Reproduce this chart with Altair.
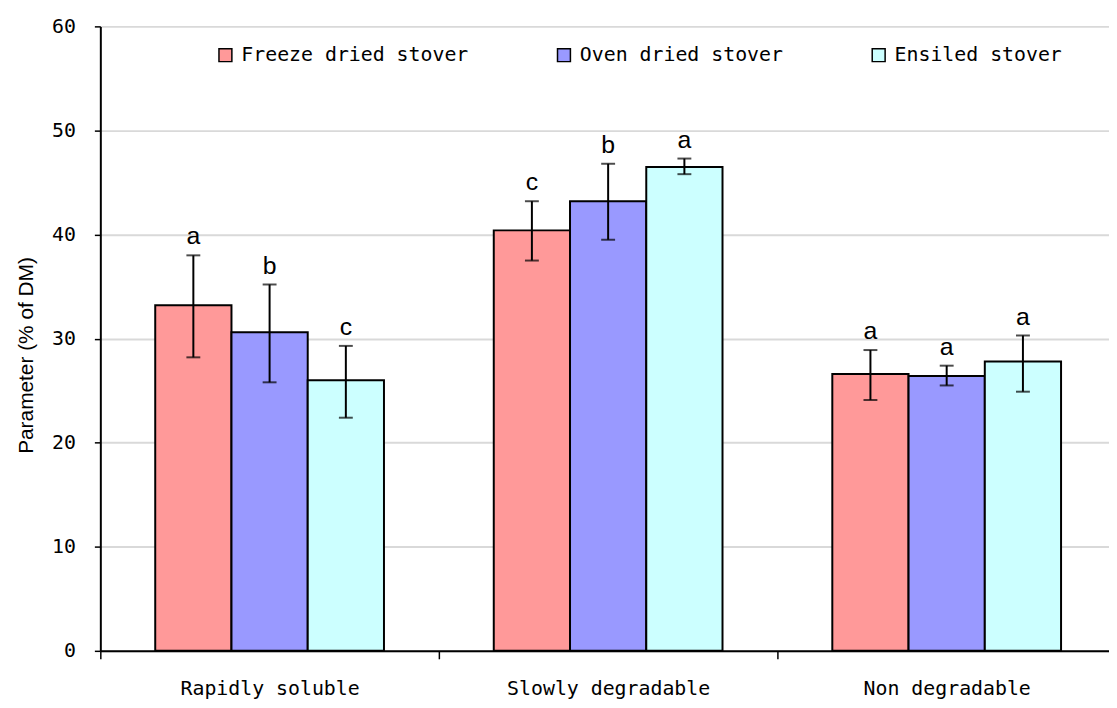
import altair as alt
import pandas as pd

categories = ["Rapidly soluble", "Slowly degradable", "Non degradable"]
treatments = ["Freeze dried stover", "Oven dried stover", "Ensiled stover"]
colors = ["#FF9999", "#9999FF", "#CCFFFF"]

# values per category, in treatment order
means = [
    [33.2, 30.6, 26.0],
    [40.4, 43.2, 46.5],
    [26.6, 26.4, 27.8],
]
lower = [
    [28.2, 25.8, 22.4],
    [37.5, 39.5, 45.8],
    [24.1, 25.5, 24.9],
]
upper = [
    [38.0, 35.2, 29.3],
    [43.2, 46.8, 47.3],
    [28.9, 27.4, 30.3],
]
letters = [
    ["a", "b", "c"],
    ["c", "b", "a"],
    ["a", "a", "a"],
]
y_ticks = [0, 10, 20, 30, 40, 50, 60]

rows = []
for i, c in enumerate(categories):
    for j, t in enumerate(treatments):
        rows.append({"category": c, "treatment": t, "mean": means[i][j],
                     "lo": lower[i][j], "hi": upper[i][j], "letter": letters[i][j]})
df = pd.DataFrame(rows)

MONO = "DejaVu Sans Mono"

x_scale = alt.Scale(rangeMin=0, rangeMax=1023, paddingInner=0, paddingOuter=0)
x_enc = alt.X("category:N", sort=categories, scale=x_scale,
              axis=alt.Axis(title=None, labelAngle=0, tickBand="extent",
                            labelFont=MONO, labelFontSize=20, labelColor="black",
                            labelLimit=400,
                            labelPadding=20, tickSize=8, tickWidth=1.5, tickColor="black",
                            domainColor="black", domainWidth=2, grid=False))
xo_scale = alt.Scale(paddingInner=0, paddingOuter=0.72)
xo_enc = alt.XOffset("treatment:N", sort=treatments, scale=xo_scale)
y_scale = alt.Scale(domain=[0, 60], nice=False, zero=True)

base = alt.Chart(df)

bars = base.mark_bar(stroke="black", strokeWidth=2).encode(
    x=x_enc,
    xOffset=xo_enc,
    y=alt.Y("mean:Q", scale=y_scale,
            axis=alt.Axis(title="Parameter (% of DM)", values=y_ticks,
                          labelFont=MONO, labelFontSize=20, labelColor="black",
                          labelPadding=19, tickSize=6, tickWidth=1.5, tickColor="black",
                          domainColor="black", domainWidth=2,
                          grid=True, gridColor="#d9d9d9", gridWidth=2,
                          titleFont="Liberation Sans", titleFontSize=21,
                          titleFontWeight="normal", titleColor="black",
                          titleAngle=270, titleBaseline="alphabetic", titleAlign="center",
                          titleX=-68, titleY=331)),
    color=alt.Color("treatment:N", sort=treatments,
                    scale=alt.Scale(domain=treatments, range=colors),
                    legend=alt.Legend(title=None, orient="none", direction="horizontal",
                                      legendX=116, legendY=19, padding=0,
                                      symbolType="square", symbolSize=169,
                                      symbolStrokeColor="black", symbolStrokeWidth=1.5,
                                      symbolOpacity=1,
                                      labelFont=MONO, labelFontSize=20, labelColor="black",
                                      labelOffset=6, columnPadding=86, labelLimit=400)),
)

stems = base.mark_rule(color="black", strokeWidth=2).encode(
    x=x_enc,
    xOffset=xo_enc,
    y=alt.Y("lo:Q", scale=y_scale),
    y2="hi:Q",
)

caps_hi = base.mark_tick(color="black", thickness=2, size=14, orient="horizontal").encode(
    x=x_enc,
    xOffset=xo_enc,
    y=alt.Y("hi:Q", scale=y_scale),
)
caps_lo = base.mark_tick(color="black", thickness=2, size=14, orient="horizontal").encode(
    x=x_enc,
    xOffset=xo_enc,
    y=alt.Y("lo:Q", scale=y_scale),
)

text = base.mark_text(font="Liberation Sans", fontSize=25, color="black",
                      baseline="alphabetic", dy=-11).encode(
    x=x_enc,
    xOffset=xo_enc,
    y=alt.Y("hi:Q", scale=y_scale),
    text="letter:N",
)

chart = alt.layer(bars, stems, caps_hi, caps_lo, text).properties(
    width=1016, height=629,
    autosize=alt.AutoSizeParams(type="none"),
    padding={"left": 93, "top": 16, "right": 0, "bottom": 47},
    background="white",
).configure_view(stroke=None)

chart.save("out.html", embed_options={"renderer": "svg", "actions": False})
